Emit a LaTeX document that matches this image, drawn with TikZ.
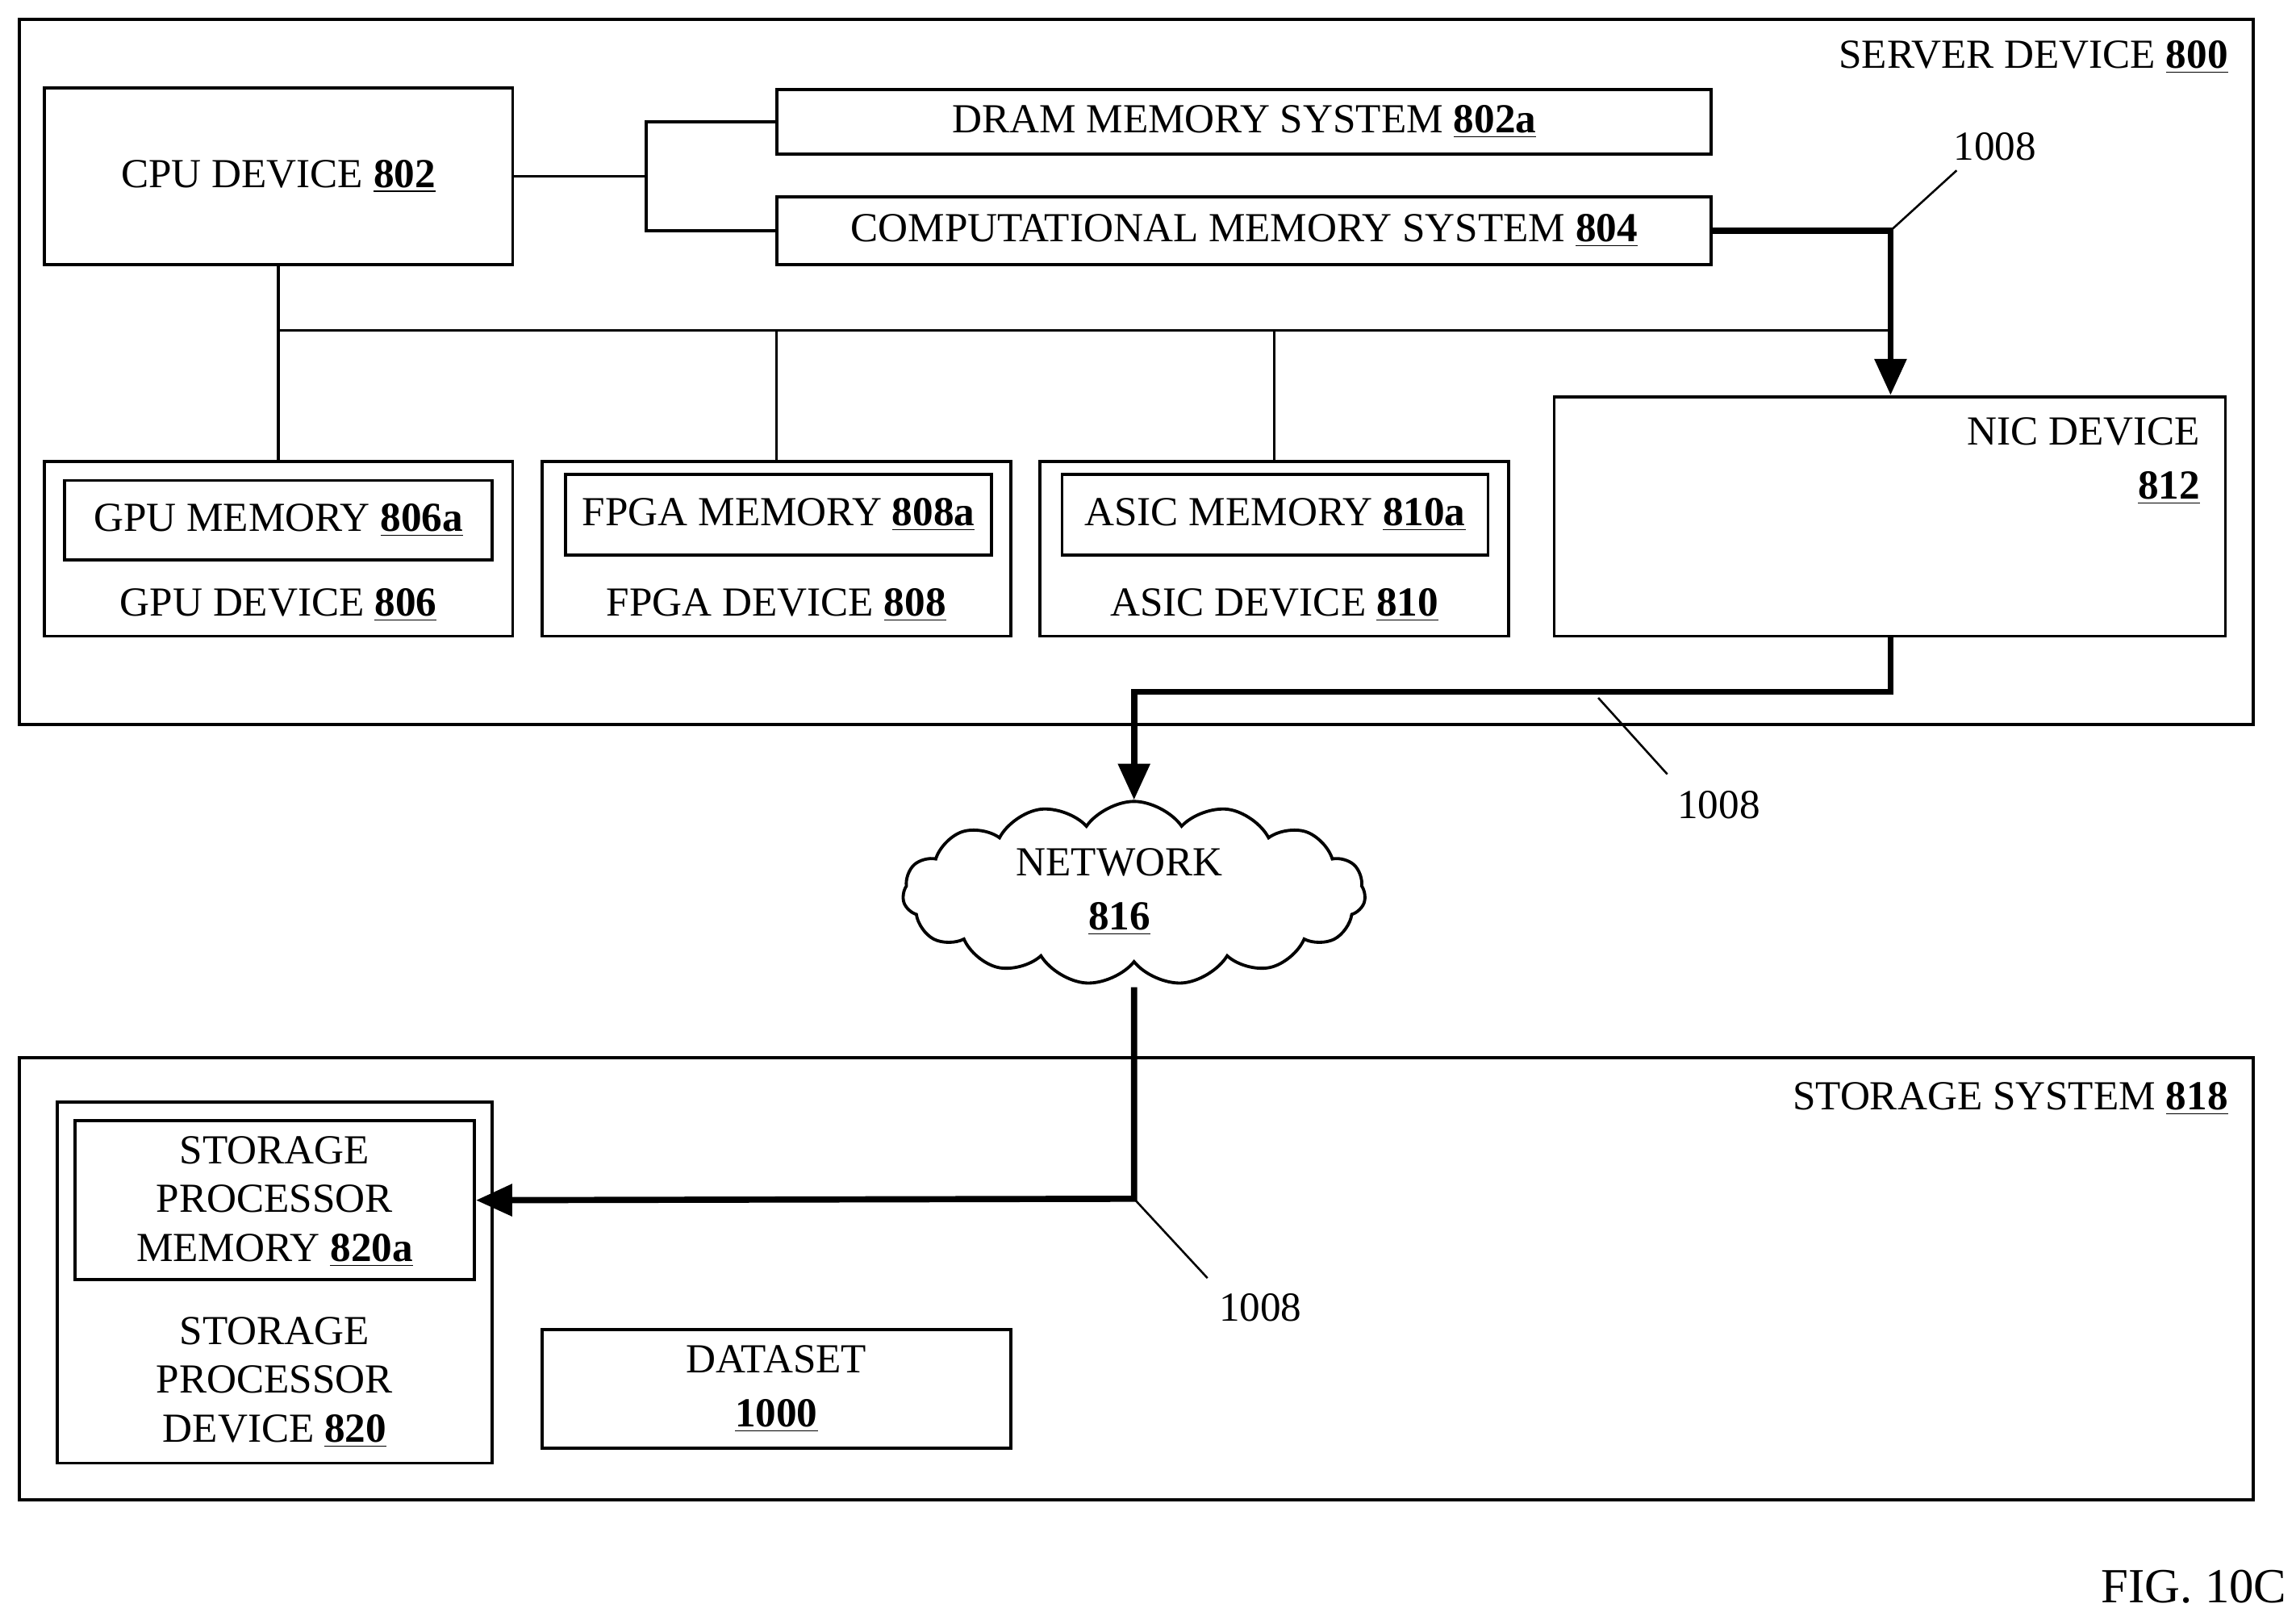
\documentclass[tikz,border=0pt]{standalone}
\usepackage{fontspec}
\setmainfont{Liberation Serif}
\usetikzlibrary{arrows.meta,shapes.symbols}
\newcommand{\refnum}[1]{\underline{\textbf{#1}}}
\tikzset{
  box/.style={draw, line width=1.2pt, inner sep=0pt},
  txt/.style={inner sep=0pt, align=center},
  bus/.style={line width=1.1pt},
  data/.style={line width=2.4pt},
  dataarrow/.style={data, -{Triangle[length=14pt,width=12pt]}},
  leader/.style={line width=0.8pt}
}
\begin{document}
\begin{tikzpicture}[x=0.02cm, y=-0.02cm, font=\fontsize{16}{19}\selectfont]
  \useasboundingbox (0,0) rectangle (1563,1100);

  % server
  \node[box, minimum width=30.42cm, minimum height=9.6cm] (server) at (773.5,253) {};
  \node[txt, anchor=east] (serverlbl) at (1517,39) {SERVER DEVICE \refnum{800}};
  \node[box, minimum width=6.38cm, minimum height=2.4cm] (cpu) at (189.5,120) {CPU DEVICE \refnum{802}};
  \node[box, minimum width=12.72cm, minimum height=0.88cm] (dram) at (847,83) {DRAM MEMORY SYSTEM \refnum{802a}};
  \node[box, minimum width=12.72cm, minimum height=0.92cm] (comp) at (847,157) {COMPUTATIONAL MEMORY SYSTEM \refnum{804}};

  \node[box, minimum width=6.38cm, minimum height=2.38cm] (gpu) at (189.5,373.5) {};
  \node[box, minimum width=5.82cm, minimum height=1.08cm] (gpumem) at (189.5,354) {GPU MEMORY \refnum{806a}};
  \node[txt] (gpulbl) at (189.5,412) {GPU DEVICE \refnum{806}};
  \node[box, minimum width=6.38cm, minimum height=2.38cm] (fpga) at (528.5,373.5) {};
  \node[box, minimum width=5.8cm, minimum height=1.1cm] (fpgamem) at (530,350.5) {FPGA MEMORY \refnum{808a}};
  \node[txt] (fpgalbl) at (528.5,412) {FPGA DEVICE \refnum{808}};
  \node[box, minimum width=6.38cm, minimum height=2.38cm] (asic) at (867.5,373.5) {};
  \node[box, minimum width=5.8cm, minimum height=1.1cm] (asicmem) at (868,350.5) {ASIC MEMORY \refnum{810a}};
  \node[txt] (asiclbl) at (867.5,412) {ASIC DEVICE \refnum{810}};
  \node[box, minimum width=9.14cm, minimum height=3.26cm] (nic) at (1286.5,351.5) {};
  \node[txt, anchor=north east, align=right] (niclbl) at (1498,284) {NIC DEVICE\\[2pt]\refnum{812}};

  % buses
  \coordinate (split) at (440,120);
  \coordinate (busl) at (189.5,225);
  \coordinate (busr) at (1287,225);
  \draw[bus] (cpu.east) -- (split);
  \draw[bus] (dram.west) -| (split) |- (comp.west);
  \draw[bus] (cpu.south) -- (gpu.north);
  \draw[bus] (busl) -- (busr);
  \draw[bus] (fpga.north) -- (fpga.north |- busl);
  \draw[bus] (asic.north) -- (asic.north |- busl);

  % data path
  \coordinate (cornA) at (1287,157);
  \coordinate (cornB) at (1287,471);
  \draw[dataarrow] (comp.east) -- (cornA) -- (nic.north -| cornA);
  \node[cloud, draw, line width=1.2pt, cloud puffs=15, cloud puff arc=110, aspect=2.6, minimum width=6.3cm, minimum height=2.5cm, inner sep=0pt] (network) at (772,608) {};
  \node[txt] (netlbl) at (762,607) {NETWORK\\[2pt]\refnum{816}};
  \coordinate (netbot) at (772,672);
  \draw[dataarrow] (nic.south -| cornB) -- (cornB) -| (network.north);

  % storage
  \node[box, minimum width=30.42cm, minimum height=6.02cm] (storage) at (773.5,870.5) {};
  \node[txt, anchor=east] (storagelbl) at (1517,748) {STORAGE SYSTEM \refnum{818}};
  \node[box, minimum width=5.92cm, minimum height=4.92cm] (spd) at (187,873) {};
  \node[box, minimum width=5.44cm, minimum height=2.16cm] (spmem) at (187,817) {};
  \node[txt] (spmemlbl) at (187,818) {STORAGE\\PROCESSOR\\MEMORY \refnum{820a}};
  \node[txt] (spdlbl) at (187,941) {STORAGE\\PROCESSOR\\DEVICE \refnum{820}};
  \node[box, minimum width=6.38cm, minimum height=1.62cm, align=center] (dataset) at (528.5,945.5) {DATASET\\[2pt]\refnum{1000}};
  \coordinate (cornC) at (772,816);
  \draw[dataarrow] (netbot) -- (cornC) -- (spmem.east);

  % reference labels
  \node[txt] (refa) at (1358,100) {1008};
  \node[txt] (refb) at (1170,548) {1008};
  \node[txt] (refc) at (858,890) {1008};
  \draw[leader] (cornA) -- (1332,116);
  \draw[leader] (1088,475) -- (1135,527);
  \draw[leader] (cornC) -- (822,870);

  \node[txt, anchor=east, font=\fontsize{19}{23}\selectfont] (fig) at (1557,1080) {FIG. 10C};
\end{tikzpicture}
\end{document}
